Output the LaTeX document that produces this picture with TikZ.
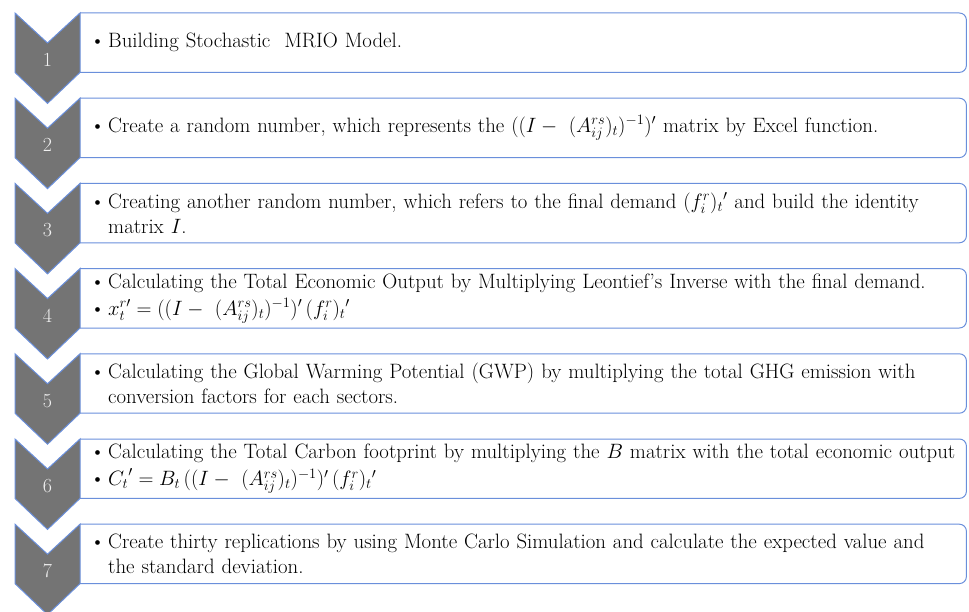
\documentclass[tikz,border=0pt]{standalone}
\usetikzlibrary{positioning,calc}
\definecolor{chevgray}{HTML}{747474}
\definecolor{edgeblue}{HTML}{6A8FDB}
\newcommand{\bitem}[1]{\noindent\makebox[18pt][l]{\textbullet}\parbox[t]{848pt}{\raggedright #1}}

\begin{document}
\begin{tikzpicture}[
    x=1pt, y=1pt,
    node distance=25.8pt,
    task/.style={anchor=north west, minimum width=886pt, minimum height=59pt,
                 inner xsep=10pt, inner ysep=0pt, text width=866pt, align=left,
                 font=\fontsize{20.8}{25}\selectfont},
    boxline/.style={draw=edgeblue, line width=1pt, rounded corners=7pt},
    chev/.style={fill=chevgray, draw=edgeblue, line width=1pt, line join=miter},
    num/.style={text=white!94!black, font=\fontsize{20}{22}\selectfont}
  ]
    \useasboundingbox (0,0) rectangle (969,-612);

    \node[task] (task1) at (80,-13) {\bitem{Building Stochastic\ \ MRIO Model.}};
    \node[task, below=of task1] (task2) {\bitem{Create a random number, which represents the $((I -\ (A_{ij}^{rs})_t)^{-1})'$ matrix by Excel function.}};
    \node[task, below=of task2] (task3) {\bitem{Creating another random number, which refers to the final demand $(f_i^{r})_t{}'$ and build the identity\newline matrix $I$.}};
    \node[task, below=of task3] (task4) {\bitem{Calculating the Total Economic Output by Multiplying Leontief's Inverse with the final demand.}\\[2pt]
                                          \bitem{$x_t^{r\prime} = ((I -\ (A_{ij}^{rs})_t)^{-1})'\,(f_i^{r})_t{}'$}};
    \node[task, below=of task4] (task5) {\bitem{Calculating the Global Warming Potential (GWP) by multiplying the total GHG emission with\newline conversion factors for each sectors.}};
    \node[task, below=of task5] (task6) {\bitem{Calculating the Total Carbon footprint by multiplying the $B$ matrix with the total economic output}\\[2pt]
                                          \bitem{${C_t}' = B_t\,((I -\ (A_{ij}^{rs})_t)^{-1})'\,(f_i^{r})_t{}'$}};
    \node[task, below=of task6] (task7) {\bitem{Create thirty replications by using Monte Carlo Simulation and calculate the expected value and\newline the standard deviation.}};

    % frames open on the left, the chevrons close them
    \foreach \i in {1,...,7}
      \draw[boxline] (task\i.north west) -- (task\i.north east) -- (task\i.south east) -- (task\i.south west);

    % numbered chevrons
    \foreach \i in {1,...,7}{
      \draw[chev] ($(task\i.north west)+(-65,0)$) -- ++(32.5,-30) -- (task\i.north west)
                  -- (task\i.south west) -- ++(-32.5,-31) -- ++(-32.5,31) -- cycle;
      \node[num] (num\i) at ($(task\i.north west)+(-32.5,-47)$) {\i};
    }
  \end{tikzpicture}
\end{document}
